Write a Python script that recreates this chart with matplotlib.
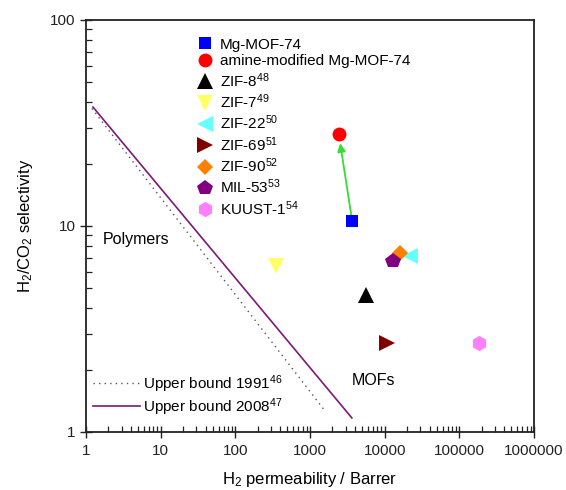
import matplotlib
matplotlib.use("Agg")
import matplotlib.pyplot as plt
from matplotlib.ticker import LogLocator, NullFormatter

plt.rcParams['font.family'] = ['Liberation Sans', 'DejaVu Sans']
plt.rcParams['mathtext.default'] = 'regular'

# Materials: H2 permeability (Barrer) and H2/CO2 selectivity
names = ["Mg-MOF-74", "amine-modified Mg-MOF-74", "ZIF-8$^{48}$", "ZIF-7$^{49}$",
         "ZIF-22$^{50}$", "ZIF-69$^{51}$", "ZIF-90$^{52}$", "MIL-53$^{53}$", "KUUST-1$^{54}$"]
permeability = [3640, 2440, 5600, 350, 21700, 10700, 16000, 12900, 182000]
selectivity = [10.6, 28.0, 4.62, 6.4, 7.15, 2.7, 7.4, 6.76, 2.7]
markers = ["s", "o", "^", "v", "<", ">", "D", "p", "h"]
colors = ["#0000ff", "#ff0000", "#000000", "#ffff66", "#66ffff", "#800000",
          "#ff8000", "#800080", "#ff80ff"]
sizes = [9, 10, 11, 11, 11, 11, 8.5, 11.5, 11]

# Upper-bound lines (end points)
ub1991_x = [1.2, 1630]
ub1991_y = [37.2, 1.25]
ub2008_x = [1.24, 3640]
ub2008_y = [37.8, 1.17]

fig = plt.figure(figsize=(5.66, 4.90), dpi=100)
ax = fig.add_axes([0.1519, 0.1184, 0.7915, 0.8408])
ax.set_xscale("log")
ax.set_yscale("log")
ax.set_xlim(1, 1e6)
ax.set_ylim(1, 100)

l1991, = ax.plot(ub1991_x, ub1991_y, ls=(0, (1, 3)), color="#555555", lw=1.0)
l2008, = ax.plot(ub2008_x, ub2008_y, ls="-", color="#7a1a78", lw=1.2)

handles = []
for n, x, y, m, c, s in zip(names, permeability, selectivity, markers, colors, sizes):
    h, = ax.plot([x], [y], ls="none", marker=m, color=c, markersize=s,
                 markeredgewidth=0, label=n, zorder=5)
    handles.append(h)

# arrow from Mg-MOF-74 to the amine-modified material
ax.annotate("", xy=(permeability[1] * 1.04, selectivity[1] * 0.9),
            xytext=(permeability[0] * 0.98, selectivity[0] * 1.07),
            arrowprops=dict(arrowstyle="-|>", color="#33dd33", lw=1.3,
                            mutation_scale=12, shrinkA=0, shrinkB=0), zorder=4)

ax.text(0.038, 0.468, "Polymers", transform=ax.transAxes, fontsize=11.5,
        ha="left", va="center")
ax.text(0.594, 0.124, "MOFs", transform=ax.transAxes, fontsize=11.5,
        ha="left", va="center")

leg1 = ax.legend(handles=handles, loc="upper left", bbox_to_anchor=(0.235, 0.972),
                 frameon=False, fontsize=11, handlelength=1.0, handletextpad=0.45,
                 labelspacing=0.18, borderaxespad=0)
ax.add_artist(leg1)
ax.legend([l1991, l2008], ["Upper bound 1991$^{46}$", "Upper bound 2008$^{47}$"],
          loc="lower left", bbox_to_anchor=(0.002, 0.02), frameon=False, fontsize=11,
          handlelength=3.07, handletextpad=0.2, labelspacing=0.1, borderaxespad=0)

ax.xaxis.set_minor_locator(LogLocator(base=10, subs=range(2, 10), numticks=20))
ax.yaxis.set_minor_locator(LogLocator(base=10, subs=range(2, 10), numticks=20))
ax.xaxis.set_minor_formatter(NullFormatter())
ax.yaxis.set_minor_formatter(NullFormatter())
ax.set_xticks([1, 10, 100, 1000, 10000, 100000, 1000000])
ax.set_xticklabels(["1", "10", "100", "1000", "10000", "100000", "1000000"])
ax.set_yticks([1, 10, 100])
ax.set_yticklabels(["1", "10", "100"])

ax.tick_params(which="major", direction="inout", length=8, width=1.0,
               labelsize=11, colors="#222222", top=False, right=False)
ax.tick_params(which="minor", direction="in", length=4, width=0.9,
               top=False, right=False, colors="#222222")
ax.tick_params(axis="x", which="major", pad=5)
for s in ax.spines.values():
    s.set_linewidth(1.3)
    s.set_color("#222222")

ax.set_xlabel("H$_2$ permeability / Barrer", fontsize=12, labelpad=8)
ax.set_ylabel("H$_2$/CO$_2$ selectivity", fontsize=12, labelpad=11)

fig.savefig("out.png", dpi=100, facecolor="white")
